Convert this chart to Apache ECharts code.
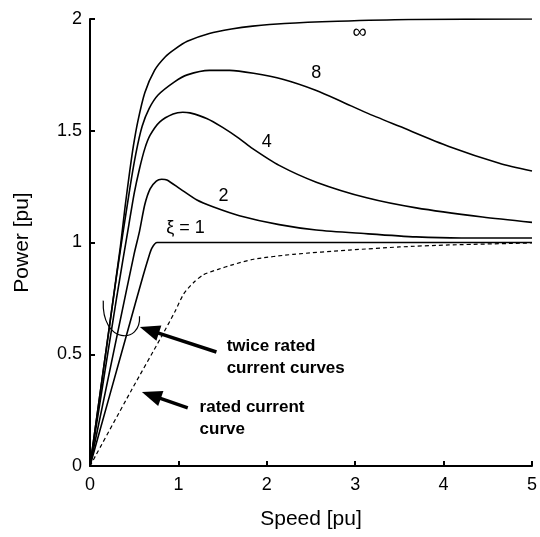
<!DOCTYPE html>
<html>
<head>
<meta charset="utf-8">
<script src="https://cdn.jsdelivr.net/npm/echarts@6/dist/echarts.min.js"></script>
<style>
  html, body { margin: 0; padding: 0; background: #fff; }
  #main { width: 540px; height: 537px; }
</style>
</head>
<body>
<div id="main"></div>
<script>
// curves, [speed, power]
var curveInf = [[0,0],[0.34,0.97],[0.4,1.17],[0.45,1.32],[0.49,1.43],[0.54,1.54],[0.62,1.67],[0.73,1.77],[0.85,1.83],[0.96,1.865],[1.1,1.9],[1.35,1.935],[1.6,1.955],[1.84,1.968],[2.2,1.98],[2.8,1.99],[3.6,1.998],[5,2.0]]
var curve8 = [[0,0],[0.3,0.85],[0.45,1.24],[0.52,1.4],[0.59,1.52],[0.67,1.6],[0.77,1.66],[0.96,1.72],[1.1,1.75],[1.35,1.77],[1.58,1.77],[1.85,1.757],[2.18,1.73],[2.56,1.68],[2.85,1.63],[3.13,1.58],[3.5,1.52],[4.06,1.43],[4.63,1.355],[5,1.32]]
var curve4 = [[0,0],[0.3,0.75],[0.44,1.08],[0.5,1.22],[0.56,1.33],[0.62,1.42],[0.68,1.48],[0.79,1.54],[0.94,1.575],[1.05,1.583],[1.13,1.58],[1.32,1.555],[1.5,1.515],[1.69,1.465],[1.84,1.42],[2.14,1.345],[2.56,1.27],[3.13,1.2],[3.69,1.155],[4.44,1.114],[5,1.09]]
var curve2 = [[0,0],[0.32,0.61],[0.5,0.95],[0.56,1.05],[0.62,1.17],[0.68,1.24],[0.75,1.275],[0.81,1.283],[0.87,1.28],[1.02,1.24],[1.21,1.19],[1.39,1.16],[1.69,1.12],[2.14,1.08],[2.56,1.056],[3.1,1.04],[3.69,1.025],[4.2,1.02],[5,1.02]]
var curve1 = [[0,0],[0.43,0.61],[0.6,0.85],[0.66,0.93],[0.7,0.975],[0.76,1.0],[5,1.0]]
var ratedCurve = [[0,0],[0.47,0.34],[0.81,0.58],[0.96,0.69],[1.06,0.77],[1.17,0.82],[1.28,0.855],[1.45,0.88],[1.61,0.9],[1.85,0.925],[2.3,0.947],[2.93,0.966],[3.5,0.98],[4.06,0.989],[5,0.998]]

// curve labels: [text, x, y]
var curveLabels = [['∞', 3.05, 1.94], ['8', 2.56, 1.76], ['4', 2.0, 1.45], ['2', 1.51, 1.21], ['ξ = 1', 1.08, 1.065]]

var font = 'Liberation Sans, Arial, sans-serif'

function solid (data) {
  return {
    type: 'line',
    data: data,
    symbol: 'none',
    smooth: 0.25,
    lineStyle: { color: '#000', width: 1.6 },
    silent: true
  }
}

var chart = echarts.init(document.getElementById('main'))
var option = {
  animation: false,
  grid: { left: 90, right: 7, top: 19, bottom: 71 },
  xAxis: {
    type: 'value',
    min: 0,
    max: 5,
    interval: 1,
    name: 'Speed [pu]',
    nameLocation: 'middle',
    nameGap: 43,
    nameTextStyle: { fontFamily: font, fontSize: 21, color: '#000' },
    axisLine: { lineStyle: { color: '#000', width: 2 } },
    axisTick: { inside: true, length: 5, lineStyle: { color: '#000', width: 2 } },
    axisLabel: { fontFamily: font, fontSize: 18, color: '#000', margin: 10 },
    splitLine: { show: false }
  },
  yAxis: {
    type: 'value',
    min: 0,
    max: 2,
    interval: 0.5,
    name: 'Power [pu]',
    nameLocation: 'middle',
    nameGap: 57,
    nameTextStyle: { fontFamily: font, fontSize: 21, color: '#000' },
    axisLine: { lineStyle: { color: '#000', width: 2 } },
    axisTick: { inside: true, length: 5, lineStyle: { color: '#000', width: 2 } },
    axisLabel: { fontFamily: font, fontSize: 18, color: '#000', margin: 8 },
    splitLine: { show: false }
  },
  series: [
    solid(curveInf),
    solid(curve8),
    solid(curve4),
    solid(curve2),
    solid(curve1),
    {
      type: 'line',
      data: ratedCurve,
      symbol: 'none',
      smooth: 0.25,
      lineStyle: { color: '#000', width: 1.2, type: [4, 3] },
      silent: true
    }
  ]
}
chart.setOption(option)

// annotations placed from data coordinates
function px (x, y) {
  return chart.convertToPixel({ gridIndex: 0 }, [x, y])
}

function arrow (tip, tail) {
  var dx = tip[0] - tail[0]
  var dy = tip[1] - tail[1]
  var len = Math.sqrt(dx * dx + dy * dy)
  var ux = dx / len
  var uy = dy / len
  var headLen = 20
  var headW = 8
  var bx = tip[0] - ux * headLen
  var by = tip[1] - uy * headLen
  return [
    {
      type: 'line',
      shape: { x1: tail[0], y1: tail[1], x2: bx + ux * 2, y2: by + uy * 2 },
      style: { stroke: '#000', lineWidth: 3.5 }
    },
    {
      type: 'polygon',
      shape: { points: [tip, [bx - uy * headW, by + ux * headW], [bx + uy * headW, by - ux * headW]] },
      style: { fill: '#000' }
    }
  ]
}

var graphics = []
curveLabels.forEach(function (l) {
  var p = px(l[1], l[2])
  graphics.push({
    type: 'text',
    x: p[0],
    y: p[1],
    style: {
      text: l[0],
      fontFamily: font,
      fontSize: l[0] === '∞' ? 20 : 18,
      fill: '#000',
      align: 'center',
      verticalAlign: 'middle'
    }
  })
})

// small arc marking the twice-rated curves
var a0 = px(0.15, 0.74)
var a1 = px(0.56, 0.67)
var ab = px(0.3, 0.58)
graphics.push({
  type: 'bezierCurve',
  shape: {
    x1: a0[0], y1: a0[1],
    cpx1: a0[0] - 2, cpy1: ab[1] + 8,
    cpx2: a1[0] + 2, cpy2: ab[1] + 8,
    x2: a1[0], y2: a1[1]
  },
  style: { stroke: '#000', lineWidth: 1.2, fill: null }
})

graphics = graphics.concat(arrow(px(0.564, 0.622), px(1.43, 0.51)))
graphics = graphics.concat(arrow(px(0.587, 0.331), px(1.106, 0.26)))

var t1 = px(1.546, 0.488)
var t2 = px(1.24, 0.215)
graphics.push({
  type: 'text', x: t1[0], y: t1[1],
  style: { text: 'twice rated\ncurrent curves', fontFamily: font, fontSize: 17, fontWeight: 'bold', fill: '#000', lineHeight: 22, verticalAlign: 'middle' }
})
graphics.push({
  type: 'text', x: t2[0], y: t2[1],
  style: { text: 'rated current\ncurve', fontFamily: font, fontSize: 17, fontWeight: 'bold', fill: '#000', lineHeight: 22, verticalAlign: 'middle' }
})

chart.setOption({ graphic: graphics })
</script>
</body>
</html>
